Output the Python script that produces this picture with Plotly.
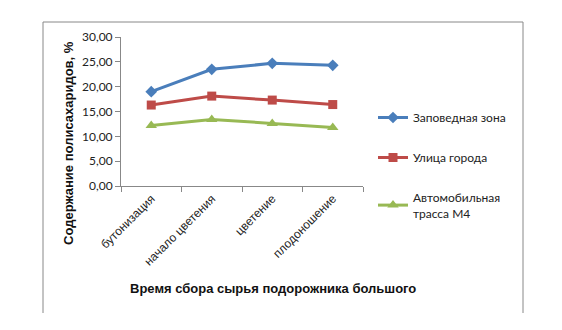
import plotly.graph_objects as go

categories = ["бутонизация", "начало цветения", "цветение", "плодоношение"]
series_names = ["Заповедная зона", "Улица города", "Автомобильная<br>трасса М4"]
zapoved = [19.0, 23.5, 24.7, 24.3]
ulica = [16.3, 18.1, 17.3, 16.4]
trassa = [12.2, 13.4, 12.6, 11.8]
y_ticks = [0, 5, 10, 15, 20, 25, 30]

colors = ["#4A7EBB", "#BE4B48", "#98B954"]
symbols = ["diamond", "square", "triangle-up"]
msizes = [9, 9, 10]

L, R, T, B = 121, 363, 37, 186
W, H = 562, 330

fig = go.Figure()
for i, (name, vals, c, s, ms) in enumerate(zip(series_names, [zapoved, ulica, trassa], colors, symbols, msizes)):
    fig.add_trace(go.Scatter(
        x=categories, y=vals, name=name, mode="lines+markers",
        legendgroup=f"g{i}",
        line=dict(color=c, width=3),
        marker=dict(symbol=s, size=ms, color=c),
    ))

def px2x(px):
    return (px - L) / (R - L)

def px2y(py):
    return (B - py) / (B - T)

fig.update_layout(
    width=W, height=H,
    margin=dict(l=L, r=W - R, t=T, b=H - B),
    paper_bgcolor="white", plot_bgcolor="white",
    separators=", ",
    showlegend=True,
    legend=dict(
        x=px2x(373), y=px2y(103), xanchor="left", yanchor="top",
        font=dict(family="Lato, Open Sans, sans-serif", size=12, color="#222"),
        tracegroupgap=21, itemwidth=30,
        bgcolor="rgba(0,0,0,0)",
    ),
    xaxis=dict(
        type="category", showgrid=False, showline=True, linecolor="#888", linewidth=1,
        ticks="outside", tickson="boundaries", ticklen=5, tickcolor="#888",
        tickangle=-45,
        tickfont=dict(family="Arial, Liberation Sans", size=12, color="#222"),
        range=[-0.5, 3.5],
    ),
    yaxis=dict(
        range=[0, 30], tickvals=y_ticks, tickformat=".2f", showgrid=False,
        showline=True, linecolor="#888", linewidth=1,
        ticks="outside", ticklen=5, tickcolor="#888",
        tickfont=dict(family="Lato, Open Sans, sans-serif", size=12, color="#222"),
        zeroline=False,
    ),
    annotations=[
        dict(text="<b>Время сбора сырья подорожника большого</b>", xref="paper", yref="paper",
             x=px2x(273), y=px2y(288), xanchor="center", yanchor="middle", showarrow=False,
             font=dict(family="Arial, Liberation Sans", size=13, color="#111")),
        dict(text="<b>Содержание полисахаридов, %</b>", xref="paper", yref="paper",
             x=px2x(68), y=px2y(143), xanchor="center", yanchor="middle", showarrow=False,
             textangle=-90,
             font=dict(family="Arial, Liberation Sans", size=13, color="#111")),
    ],
    shapes=[
        dict(type="line", xref="paper", yref="paper", x0=px2x(43), x1=px2x(43), y0=px2y(313), y1=px2y(22),
             line=dict(color="#888", width=1)),
        dict(type="line", xref="paper", yref="paper", x0=px2x(43), x1=px2x(523), y0=px2y(22), y1=px2y(22),
             line=dict(color="#888", width=1)),
        dict(type="line", xref="paper", yref="paper", x0=px2x(523), x1=px2x(523), y0=px2y(22), y1=px2y(313),
             line=dict(color="#888", width=1)),
    ],
)

fig.write_html("out.html")
